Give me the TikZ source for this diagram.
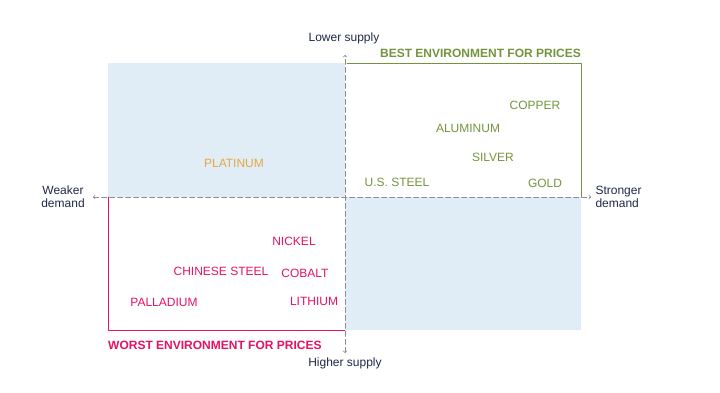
\documentclass[tikz,border=0pt]{standalone}
\usepackage{fontspec}
\setmainfont{Liberation Sans}
\usetikzlibrary{arrows}
\definecolor{bestgreen}{rgb}{0.45,0.58,0.24}
\definecolor{worstpink}{rgb}{0.89,0.07,0.39}
\definecolor{platgold}{rgb}{0.90,0.66,0.25}
\definecolor{quadblue}{rgb}{0.88,0.93,0.97}
\definecolor{axisgray}{rgb}{0.55,0.55,0.55}
\definecolor{labnavy}{rgb}{0.12,0.16,0.28}
\tikzset{
  axislab/.style={font=\fontsize{12}{13}\selectfont,color=labnavy,align=center},
  metal/.style={font=\fontsize{12}{13}\selectfont,inner sep=0pt},
  envlab/.style={font=\fontsize{12}{13}\selectfont\bfseries,inner sep=0pt},
  axisline/.style={axisgray,dash pattern=on 5pt off 3pt,line width=0.7pt,<->}
}
\begin{document}
\begin{tikzpicture}[line cap=round,line join=round,>=to,x=1pt,y=-1pt]
\useasboundingbox (0,0) rectangle (720,393);
% quadrant shading
\fill[quadblue] (108,63) rectangle (345,197);
\fill[quadblue] (345,197) rectangle (581,330);
% frames
\draw[bestgreen,line width=0.8pt] (347,63) -- (581,63) -- (581,197);
\draw[worstpink,line width=0.8pt] (108,197) -- (108,330) -- (345,330);
% axes
\coordinate (west) at (93,197);
\coordinate (east) at (591,197);
\coordinate (north) at (345,55);
\coordinate (south) at (345,353);
\draw[axisline] (west) -- (east);
\draw[axisline] (south) -- (north);
% axis labels
\node[axislab] (lowsup) at (344,38) {Lower supply};
\node[axislab] (highsup) at (345,363) {Higher supply};
\node[axislab] (weak) at (63,197) {Weaker\\demand};
\node[axislab,align=left,anchor=west] (strong) at (592,197) {Stronger\\demand};
% environment labels
\node[envlab,bestgreen,anchor=east] (best) at (581,53) {BEST ENVIRONMENT FOR PRICES};
\node[envlab,worstpink,anchor=west] (worst) at (108,345) {WORST ENVIRONMENT FOR PRICES};
% metals
\node[metal,bestgreen] (copper) at (535,105) {COPPER};
\node[metal,bestgreen] (alum) at (468,128) {ALUMINUM};
\node[metal,bestgreen] (silver) at (493,157) {SILVER};
\node[metal,bestgreen] (ussteel) at (397,182) {U.S. STEEL};
\node[metal,bestgreen] (gold) at (545,183) {GOLD};
\node[metal,platgold] (plat) at (234,163) {PLATINUM};
\node[metal,worstpink] (nickel) at (294,241) {NICKEL};
\node[metal,worstpink] (chsteel) at (221,271) {CHINESE STEEL};
\node[metal,worstpink] (cobalt) at (305,273) {COBALT};
\node[metal,worstpink] (pallad) at (164,302) {PALLADIUM};
\node[metal,worstpink] (lith) at (314,301) {LITHIUM};
\end{tikzpicture}
\end{document}
